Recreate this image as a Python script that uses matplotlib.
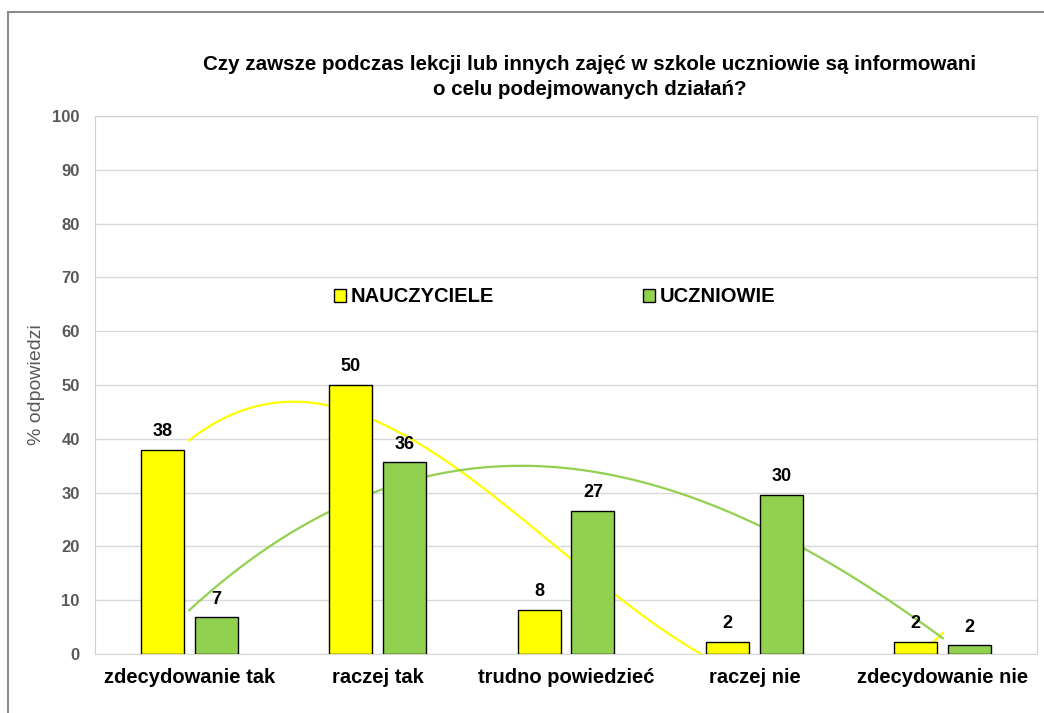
import numpy as np
import matplotlib
matplotlib.use("Agg")
import matplotlib.pyplot as plt
from matplotlib.patches import Rectangle

plt.rcParams['font.family'] = ['Liberation Sans', 'DejaVu Sans']

# dane
categories = ["zdecydowanie tak", "raczej tak", "trudno powiedzieć", "raczej nie", "zdecydowanie nie"]
nauczyciele = [38, 50, 8.2, 2.2, 2.2]
uczniowie = [6.8, 35.6, 26.6, 29.6, 1.6]
series_names = ["NAUCZYCIELE", "UCZNIOWIE"]
yticks = [0, 10, 20, 30, 40, 50, 60, 70, 80, 90, 100]

title = ("Czy zawsze podczas lekcji lub innych zajęć w szkole uczniowie są informowani\n"
         "o celu podejmowanych działań?")

yellow = "#ffff00"
green = "#92d050"

fig = plt.figure(figsize=(10.44, 7.13), dpi=100)
ax = fig.add_axes([95 / 1044, 1 - 654 / 713, (1037 - 95) / 1044, (654 - 116) / 713])

x = np.arange(len(categories))
w = 0.228
off = 0.143

b1 = ax.bar(x - off, nauczyciele, w, color=yellow, edgecolor="black", linewidth=1, zorder=3,
            label=series_names[0])
b2 = ax.bar(x + off, uczniowie, w, color=green, edgecolor="black", linewidth=1, zorder=3,
            label=series_names[1])

# etykiety danych
for bars, vals in [(b1, nauczyciele), (b2, uczniowie)]:
    for rect, v in zip(bars, vals):
        ax.annotate(f"{v:.0f}", (rect.get_x() + rect.get_width() / 2, v),
                    xytext=(0, 7), textcoords="offset points", ha="center", va="bottom",
                    fontsize=13, fontweight="bold", zorder=4)

# linie trendu (wielomian 3. stopnia, jak w Excelu)
xs = np.linspace(0, len(categories) - 1, 300)
for vals, col in [(nauczyciele, yellow), (uczniowie, green)]:
    coef = np.polyfit(x, vals, 3)
    ax.plot(xs, np.polyval(coef, xs), color=col, linewidth=1.6, zorder=2)

ax.set_xlim(-0.5, len(categories) - 0.5)
ax.set_ylim(0, 100)
ax.set_yticks(yticks)
ax.set_xticks(x)
ax.set_xticklabels(categories, fontsize=14.5, fontweight="bold")
ax.tick_params(axis="x", length=0, pad=10)
ax.tick_params(axis="y", length=0, pad=11, labelcolor="#595959", labelsize=12)
for lbl in ax.get_yticklabels():
    lbl.set_fontweight("bold")
ax.grid(axis="y", color="#d9d9d9", linewidth=1, zorder=0)
ax.set_axisbelow(True)
for s in ["left", "top", "right"]:
    ax.spines[s].set_color("#d0d0d0")
ax.spines["bottom"].set_color("#d9d9d9")

ax.set_ylabel("% odpowiedzi", color="#595959", fontsize=14, labelpad=5)

leg = ax.legend(loc="center", bbox_to_anchor=(0.488, 0.664), ncol=2, frameon=False,
                handlelength=0.6, handleheight=0.6, handletextpad=0.25, columnspacing=7.4,
                prop={"weight": "bold", "size": 14.5})

fig.text(0.565, 1 - 77 / 713, title, ha="center", va="center", fontsize=14.8,
         fontweight="bold", linespacing=1.45)

# ramka wykresu
fig.patches.append(Rectangle((8 / 1044, -0.02), 1.1, 1 - 12 / 713 + 0.02, transform=fig.transFigure,
                             fill=False, edgecolor="#8c8c8c", linewidth=1.5))

fig.savefig("out.png", dpi=100)
